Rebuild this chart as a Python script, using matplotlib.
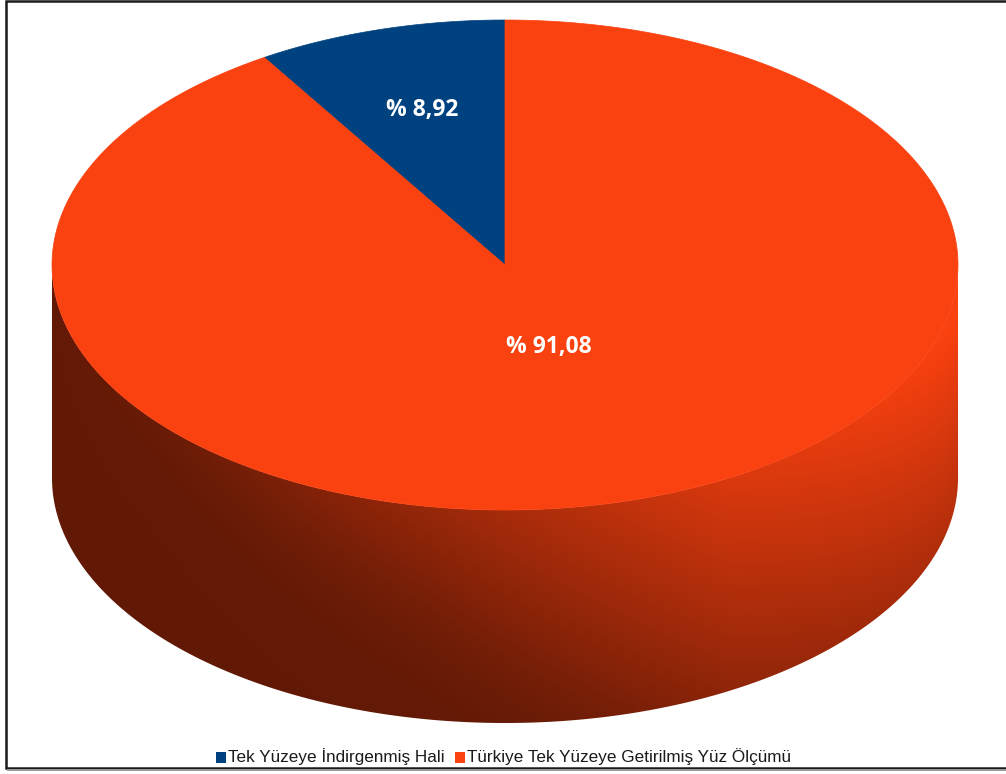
import numpy as np
import matplotlib
matplotlib.use("Agg")
import matplotlib.pyplot as plt
from matplotlib.patches import Polygon, Rectangle
from matplotlib.colors import to_rgb

# ---- data ----
categories = ["Tek Yüzeye İndirgenmiş Hali", "Türkiye Tek Yüzeye Getirilmiş Yüz Ölçümü"]
values = [8.92, 91.08]
value_labels = ["% 8,92", "% 91,08"]
colors = ["#00427f", "#fa4110"]

# ---- geometry / style ----
W, H = 1006, 774
cx, cy = 505, 265
rx, ry = 453, 245
depth = 213
start = 90.0
label_r = [0.66, 0.35]

fig = plt.figure(figsize=(W / 100, H / 100), dpi=100)
ax = fig.add_axes([0, 0, 1, 1])
ax.set_xlim(0, W)
ax.set_ylim(H, 0)
ax.axis("off")

def pt(phi_deg, yoff=0.0):
    p = np.radians(phi_deg)
    return cx + rx * np.cos(p), cy - ry * np.sin(p) + yoff

total = sum(values)
spans = []
a = start
for v in values:
    d = v / total * 360.0
    spans.append((a, a + d))
    a += d

# ---- sides (front half: phi in [180, 360]) ----
xs = np.arange(cx - rx - 2, cx + rx + 3)
ys = np.arange(cy - 2, cy + ry + depth + 3)
X, Y = np.meshgrid(xs + 0.5, ys + 0.5)
cosv = np.clip((X - cx) / rx, -1, 1)
theta = np.degrees(np.arccos(cosv))
ytop = cy + ry * np.sin(np.radians(theta))
vv = np.clip((Y - ytop) / depth, 0, 1)
g = np.interp(theta, [0, 60, 100, 140, 180], [1.1, 0.8, 0.35, 0.0, -0.2]) - 0.5 * vv
k = 12.0
f = np.log1p(np.exp(k * g)) / k
f = np.clip(f, 0, 1)
shade = 0.39 + 0.61 * f

for (a0, a1), col in zip(spans, colors):
    for kk in (-360, 0, 360):
        lo = max(a0 + kk, 180.0)
        hi = min(a1 + kk, 360.0)
        if hi <= lo:
            continue
        ph = np.linspace(lo, hi, 300)
        top = [pt(p) for p in ph]
        bot = [pt(p, depth) for p in ph[::-1]]
        poly = Polygon(top + bot, closed=True, facecolor="none", edgecolor="none")
        ax.add_patch(poly)
        base = np.array(to_rgb(col))
        img = np.clip(shade[..., None] * base[None, None, :], 0, 1)
        im = ax.imshow(img, extent=(xs[0], xs[-1] + 1, ys[-1] + 1, ys[0]),
                       origin="upper", interpolation="bilinear", zorder=1)
        im.set_clip_path(poly)

# ---- top ----
for (a0, a1), col in zip(spans, colors):
    ph = np.linspace(a0, a1, 400)
    verts = [(cx, cy)] + [pt(p) for p in ph]
    ax.add_patch(Polygon(verts, closed=True, facecolor=col, edgecolor=col,
                         linewidth=0.5, zorder=2))

# ---- labels ----
for (a0, a1), lab, r in zip(spans, value_labels, label_r):
    m = np.radians((a0 + a1) / 2)
    x = cx + rx * r * np.cos(m)
    y = cy - ry * r * np.sin(m)
    ax.text(x, y, lab, color="white", fontsize=16.5, fontweight="bold",
            family=["Open Sans", "DejaVu Sans"], ha="center", va="center", zorder=3)

# ---- legend ----
leg_y = 757
xpos = 216
for cat, col in zip(categories, colors):
    ax.add_patch(Rectangle((xpos, leg_y - 5.5), 10, 11, facecolor=col,
                           edgecolor="none", zorder=3))
    t = ax.text(xpos + 12, leg_y, cat, fontsize=12.3,
                family=["Liberation Sans Narrow", "Liberation Sans", "DejaVu Sans"],
                ha="left", va="center", color="#1a1a1a", zorder=3)
    fig.canvas.draw()
    bb = t.get_window_extent()
    xpos = bb.x1 + 10

# ---- frame ----
ax.plot([1010, 6, 6, 1010], [1, 1, 767.5, 767.5], color="#1a1a1a", lw=1.8,
        solid_joinstyle="miter", zorder=4)
ax.plot([8, 1010], [770, 770], color="#9a9a9a", lw=1.4, zorder=4)

fig.savefig("out.png", dpi=100)
